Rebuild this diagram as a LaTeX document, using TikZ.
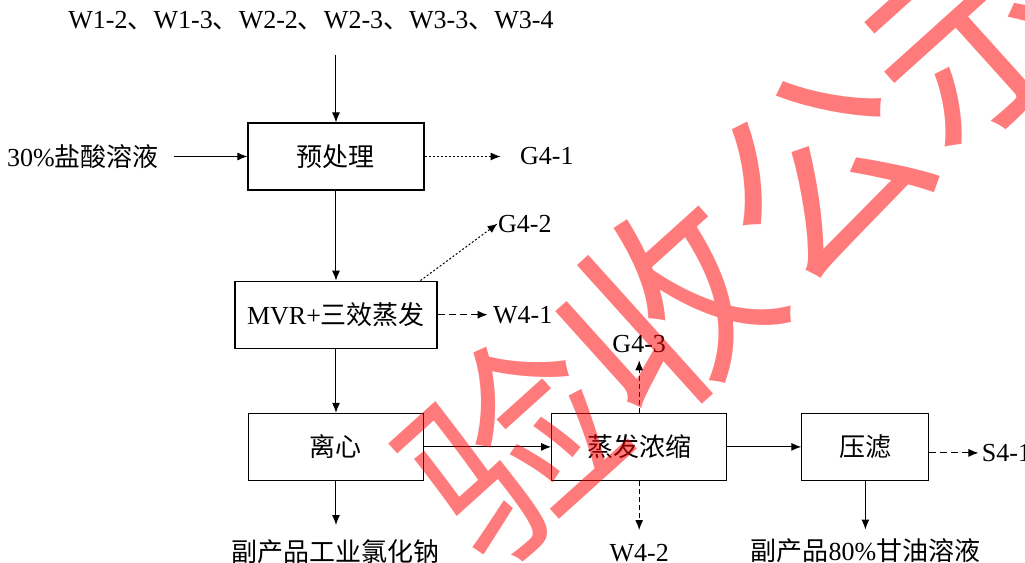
\documentclass[tikz,border=0pt]{standalone}
\usepackage{fontspec}
\setmainfont{Liberation Serif}
\newfontfamily\cjk{Noto Sans CJK SC}
\usetikzlibrary{arrows.meta,positioning}
\tikzset{
    every picture/.style={
        line width=.5pt,>={Latex[length=5pt,width=4pt]},node distance=20pt,
        every node/.style={font=\fontsize{13pt}{15pt}\selectfont},
        proc/.style={draw,line width=.6pt,minimum height=33.5pt,inner sep=0pt},
        lbl/.style={inner sep=0pt},
        dotline/.style={dash pattern=on 1pt off 1pt},
        dashline/.style={dash pattern=on 3.5pt off 2pt},
        fineline/.style={dash pattern=on 2.5pt off 1.5pt}
    }
}

\begin{document}
\begin{tikzpicture}
    \useasboundingbox (-168pt,-203.25pt) rectangle (344.5pt,78.25pt);
    \node[proc,minimum width=88pt]    (pre) at (0,0) {\cjk 预处理};
    \node[proc,minimum width=101pt]   (mvr) [below=45pt of pre] {MVR+{\cjk 三效蒸发}};
    \node[proc,minimum width=87.5pt]  (lx)  [below=32pt of mvr] {\cjk 离心};
    \node[proc,minimum width=87.5pt]  (zf)  [right=63.5pt of lx] {\cjk 蒸发浓缩};
    \node[proc,minimum width=63.5pt]  (yl)  [right=37pt of zf] {\cjk 压滤};
    % inputs and outputs
    \node[lbl] (src)  [above=46pt of pre,xshift=-12.5pt] {W1-2{\cjk 、}W1-3{\cjk 、}W2-2{\cjk 、}W2-3{\cjk 、}W3-3{\cjk 、}W3-4};
    \node[lbl] (acid) [left=44pt of pre] {30\%{\cjk 盐酸溶液}};
    \node[lbl] (g41)  [right=47.5pt of pre] {G4-1};
    \node[lbl] (g42)  [above right=28.5pt and 30pt of mvr.north east,anchor=west] {G4-2};
    \node[lbl] (w41)  [right=27.5pt of mvr] {W4-1};
    \node[lbl] (nacl) [below=29pt of lx] {\cjk 副产品工业氯化钠};
    \node[lbl] (g43)  [above=29.75pt of zf] {G4-3};
    \node[lbl] (w42)  [below=31.5pt of zf] {W4-2};
    \node[lbl] (gly)  [below=28.5pt of yl] {{\cjk 副产品}80\%{\cjk 甘油溶液}};
    \node[lbl] (s41)  [right=26pt of yl,yshift=-3pt] {S4-1};
    \draw[->,shorten <=12.25pt] (src.south -| pre.north) -- (pre);
    \draw[->,shorten <=7.5pt] (acid) -- (pre);
    \draw[->,dotline,shorten >=9.5pt] (pre) -- (g41);
    \draw[->] (pre) -- (mvr);
    \draw[->,dotline] (mvr.22) -- (g42.west);
    \draw[->,dashline,shorten >=2.5pt] (mvr) -- (w41);
    \draw[->] (mvr) -- (lx);
    \draw[->,shorten >=7pt] (lx) -- (nacl);
    \draw[->] (lx) -- (zf);
    \draw[->,fineline,shorten >=3.5pt] (zf) -- (g43);
    \draw[->,fineline,shorten >=7pt] (zf) -- (w42);
    \draw[->] (zf) -- (yl);
    \draw[->,shorten >=4.25pt] (yl) -- (gly);
    \draw[->,dashline,shorten >=1.5pt] (yl.east |- s41) -- (s41);
    % watermark
    \node[text=red,opacity=.52,rotate=42,inner sep=0pt,font=\cjk\fontsize{103pt}{103pt}\selectfont]
        (wmark) at (203pt,-41.75pt) {验收公示};
\end{tikzpicture}
\end{document}
